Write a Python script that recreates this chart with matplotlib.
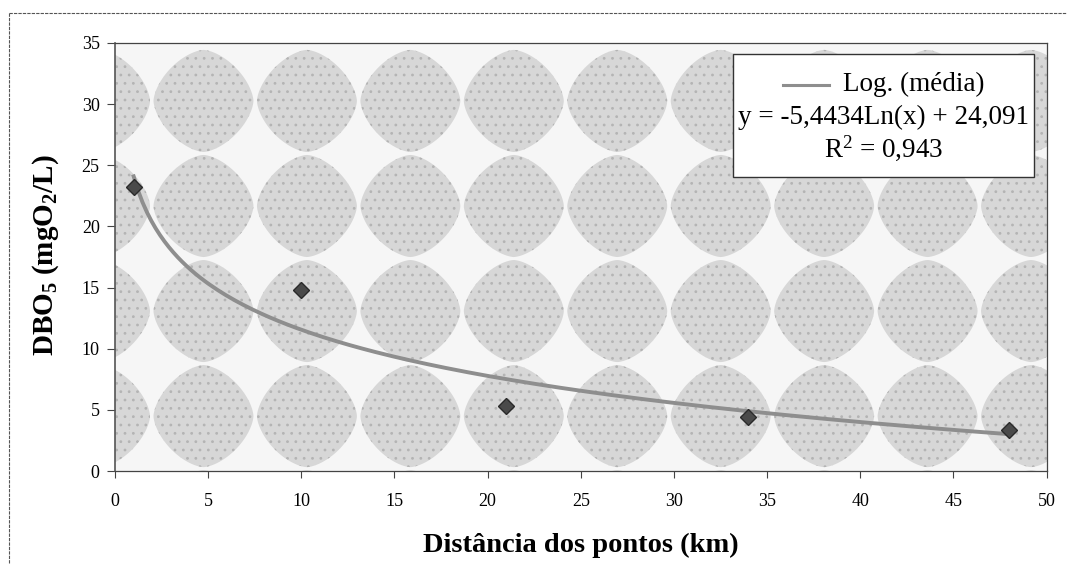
import numpy as np
import matplotlib
matplotlib.use("Agg")
import matplotlib.pyplot as plt
from matplotlib.patches import Polygon, Rectangle
from matplotlib.lines import Line2D

# Data
distancia = [1, 10, 21, 34, 48]
dbo5 = [23.2, 14.8, 5.3, 4.4, 3.4]

# Logarithmic trend line shown in the legend
coef_a = -5.4434
coef_b = 24.091
r2 = 0.943

x_ticks = [0, 5, 10, 15, 20, 25, 30, 35, 40, 45, 50]
y_ticks = [0, 5, 10, 15, 20, 25, 30, 35]

plt.rcParams["font.family"] = "Liberation Serif"
plt.rcParams["mathtext.fontset"] = "custom"
plt.rcParams["mathtext.rm"] = "Liberation Serif"
plt.rcParams["mathtext.it"] = "Liberation Serif:italic"
plt.rcParams["mathtext.bf"] = "Liberation Serif:bold"
plt.rcParams["hatch.linewidth"] = 0.8

fig = plt.figure(figsize=(10.67, 5.69), dpi=100)
ax = fig.add_axes([0.1078, 0.172, 0.873, 0.7526])

# Background: stippled rounded-diamond pattern (Excel fill), pixel sizes of the reference
ax.set_facecolor("#f6f6f6")
t = np.linspace(0, 2 * np.pi, 160)
p = 1.6
ux = np.sign(np.cos(t)) * np.abs(np.cos(t)) ** (2 / p)
uy = np.sign(np.sin(t)) * np.abs(np.sin(t)) ** (2 / p)
rx = 50 / 932
ry = 51 / 428
for i in range(11):
    for j in range(5):
        cx = (100 - 115 + 103.5 * i) / 932
        cy = (471 - 101 - 105 * j) / 428
        poly = Polygon(np.column_stack([cx + rx * ux, cy + ry * uy]), closed=True,
                       transform=ax.transAxes, facecolor="#d7d7d7", edgecolor="#b4b4b4",
                       hatch="..", linewidth=0, zorder=0.5)
        poly.set_clip_path(ax.patch)
        ax.add_patch(poly)

# Trend line
xs = np.linspace(1, 48, 200)
ax.plot(xs, coef_a * np.log(xs) + coef_b, color="#8e8e8e", lw=2.8, zorder=2)

# Measured points
ax.plot(distancia, dbo5, linestyle="none", marker="D", markersize=8.5,
        color="#4a4a4a", markeredgecolor="#2a2a2a", zorder=3)

ax.set_xlim(0, 50)
ax.set_ylim(0, 35)
ax.set_xticks(x_ticks)
ax.set_yticks(y_ticks)
ax.tick_params(labelsize=13, direction="out", color="#444444")
ax.tick_params(axis="x", length=5, pad=11)
ax.tick_params(axis="y", length=6, pad=5)
ax.spines["left"].set_color("#555555")
ax.spines["left"].set_linewidth(1.2)
for s in ["top", "right", "bottom"]:
    ax.spines[s].set_color("#444444")
    ax.spines[s].set_linewidth(0.9)
    ax.spines[s].set_linestyle((0, (3, 1)))

ax.set_xlabel("Distância dos pontos (km)", fontsize=20.5, fontweight="bold")
ax.xaxis.set_label_coords(0.5, -0.143)
ax.set_ylabel(r"$\mathbf{DBO_5\ (mgO_2/L)}$", fontsize=21)
ax.yaxis.set_label_coords(-0.058, 0.505)

# Legend box with equation
box = Rectangle((0.663, 0.687), 0.324, 0.287, transform=ax.transAxes,
                facecolor="white", edgecolor="#333333", lw=1.0, zorder=4)
ax.add_patch(box)
ax.add_line(Line2D([0.717, 0.767], [0.902, 0.902], transform=ax.transAxes,
                   color="#8e8e8e", lw=2.2, zorder=5))
ax.text(0.782, 0.902, "Log. (média)", transform=ax.transAxes, fontsize=19.5,
        ha="left", va="center", zorder=5)
ax.text(0.825, 0.827, f"y = {coef_a:.4f}Ln(x) + {coef_b:.3f}".replace(".", ","),
        transform=ax.transAxes, fontsize=19.5, ha="center", va="center", zorder=5)
ax.text(0.825, 0.755, f"R$^2$ = {r2:.3f}".replace(".", ","),
        transform=ax.transAxes, fontsize=19.5, ha="center", va="center", zorder=5)

# Outer dotted chart border
fig.add_artist(Line2D([0.008, 0.008], [0.01, 0.977], transform=fig.transFigure,
                      color="#555555", lw=0.8, linestyle=(0, (3, 1))))
fig.add_artist(Line2D([0.008, 1.0], [0.977, 0.977], transform=fig.transFigure,
                      color="#555555", lw=0.8, linestyle=(0, (3, 1))))

fig.savefig("out.png", dpi=100)
